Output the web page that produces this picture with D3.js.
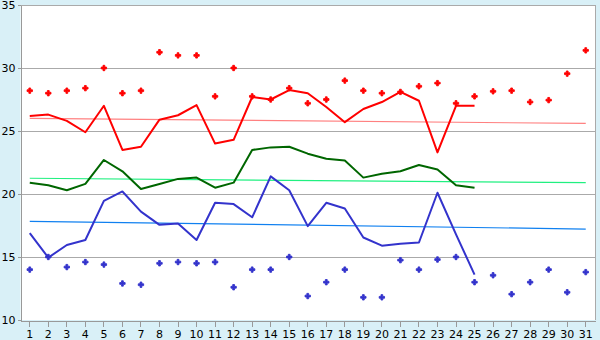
<!DOCTYPE html>
<html>
<head>
<meta charset="utf-8">
<script src="https://cdn.jsdelivr.net/npm/d3@7"></script>
<style>
  html, body { margin: 0; padding: 0; background: #d9f0f7; }
  svg { display: block; }
  .tick text { font-family: 'DejaVu Sans', Verdana, sans-serif; font-size: 11px; fill: #000; }
</style>
</head>
<body>
<div id="chart"></div>
<script>
let days = d3.range(1, 32)
let yTicks = [10, 15, 20, 25, 30, 35]

// daily series (days 1..25)
let redLine = [26.2, 26.3, 25.8, 24.9, 27.0, 23.5, 23.75, 25.9, 26.25, 27.05, 24.0, 24.3, 27.7, 27.5, 28.25, 28.0, 26.9, 25.7, 26.75, 27.3, 28.1, 27.4, 23.3, 27.0, 27.0]
let greenLine = [20.9, 20.7, 20.3, 20.8, 22.7, 21.8, 20.4, 20.8, 21.2, 21.3, 20.5, 20.9, 23.5, 23.7, 23.75, 23.2, 22.8, 22.65, 21.3, 21.6, 21.8, 22.3, 21.95, 20.7, 20.5]
let blueLine = [16.9, 14.95, 15.95, 16.35, 19.45, 20.2, 18.6, 17.55, 17.65, 16.35, 19.3, 19.2, 18.15, 21.4, 20.3, 17.45, 19.3, 18.85, 16.55, 15.9, 16.05, 16.15, 20.1, 16.8, 13.6]

// extremes (days 1..31)
let redDots = [28.2, 28.0, 28.2, 28.4, 30.0, 28.0, 28.2, 31.25, 31.0, 31.0, 27.75, 30.0, 27.75, 27.5, 28.4, 27.2, 27.5, 29.0, 28.2, 28.0, 28.1, 28.55, 28.8, 27.2, 27.75, 28.15, 28.2, 27.3, 27.45, 29.55, 31.4]
let blueDots = [14.0, 15.0, 14.2, 14.6, 14.4, 12.9, 12.8, 14.5, 14.6, 14.5, 14.6, 12.6, 14.0, 14.0, 15.0, 11.9, 13.0, 14.0, 11.8, 11.8, 14.75, 14.0, 14.8, 15.0, 13.0, 13.55, 12.05, 13.0, 14.0, 12.2, 13.8]

// trend lines, day 1 -> day 31
let redTrend = [26.0, 25.6]
let greenTrend = [21.25, 20.9]
let blueTrend = [17.83, 17.22]

let width = 600,
  height = 340,
  plotLeft = 20.5,
  plotRight = 595,
  plotTop = 5,
  plotBottom = 320

let x = d3.scaleBand()
  .domain(days)
  .range([plotLeft, plotRight])

let cx = function (d) {
  return x(d) + x.bandwidth() / 2
}

let y = d3.scaleLinear()
  .domain([10, 35])
  .range([plotBottom, plotTop])

let svg = d3.select('#chart').append('svg')
  .attr('width', width)
  .attr('height', height)

svg.append('rect')
  .attr('width', width)
  .attr('height', height)
  .attr('fill', '#d9f0f7')

svg.append('rect')
  .attr('x', plotLeft)
  .attr('y', plotTop)
  .attr('width', plotRight - plotLeft)
  .attr('height', plotBottom - plotTop)
  .attr('fill', '#fff')

// grid lines
svg.append('g').selectAll('line')
  .data(yTicks.slice(1))
  .enter().append('line')
  .attr('x1', plotLeft)
  .attr('x2', plotRight)
  .attr('y1', function (d) { return Math.round(y(d)) + 0.5 })
  .attr('y2', function (d) { return Math.round(y(d)) + 0.5 })
  .attr('stroke', '#aaa')

svg.append('line')
  .attr('x1', plotRight + 0.5)
  .attr('x2', plotRight + 0.5)
  .attr('y1', plotTop)
  .attr('y2', plotBottom)
  .attr('stroke', '#aaa')

// axes
let yAxis = svg.append('g')
  .attr('transform', 'translate(' + plotLeft + ',0)')
  .call(d3.axisLeft(y).tickValues(yTicks).tickSize(3).tickSizeOuter(0).tickPadding(2))

let xAxis = svg.append('g')
  .attr('transform', 'translate(0,' + (plotBottom + 0.5) + ')')
  .call(d3.axisBottom(x).tickSize(6).tickSizeOuter(0).tickPadding(4))

svg.selectAll('.domain, .tick line')
  .attr('stroke', '#999')
  .attr('shape-rendering', 'crispEdges')

// trend lines
let trends = [
  {values: redTrend, color: '#ff8080'},
  {values: greenTrend, color: '#20f080'},
  {values: blueTrend, color: '#1080f0'}
]

svg.append('g').selectAll('line')
  .data(trends)
  .enter().append('line')
  .attr('x1', cx(days[0]))
  .attr('x2', cx(days[days.length - 1]))
  .attr('y1', function (d) { return y(d.values[0]) })
  .attr('y2', function (d) { return y(d.values[1]) })
  .attr('stroke', function (d) { return d.color })
  .attr('stroke-width', 1.2)

// daily lines
let line = d3.line()
  .x(function (d, i) { return cx(days[i]) })
  .y(function (d) { return y(d) })

let series = [
  {values: redLine, color: '#ff0000'},
  {values: greenLine, color: '#006600'},
  {values: blueLine, color: '#3333cc'}
]

svg.append('g').selectAll('path')
  .data(series)
  .enter().append('path')
  .attr('d', function (d) { return line(d.values) })
  .attr('fill', 'none')
  .attr('stroke', function (d) { return d.color })
  .attr('stroke-width', 2)
  .attr('stroke-linejoin', 'round')

// extreme markers
let marker = d3.symbol().type(d3.symbolCross).size(16)

let dots = [
  {values: redDots, color: '#ff0000'},
  {values: blueDots, color: '#3333cc'}
]

dots.forEach(function (s) {
  svg.append('g').selectAll('path')
    .data(s.values)
    .enter().append('path')
    .attr('d', marker)
    .attr('transform', function (d, i) {
      return 'translate(' + cx(days[i]) + ',' + y(d) + ')'
    })
    .attr('fill', s.color)
    .attr('stroke', s.color)
    .attr('stroke-width', 0.9)
})
</script>
</body>
</html>
